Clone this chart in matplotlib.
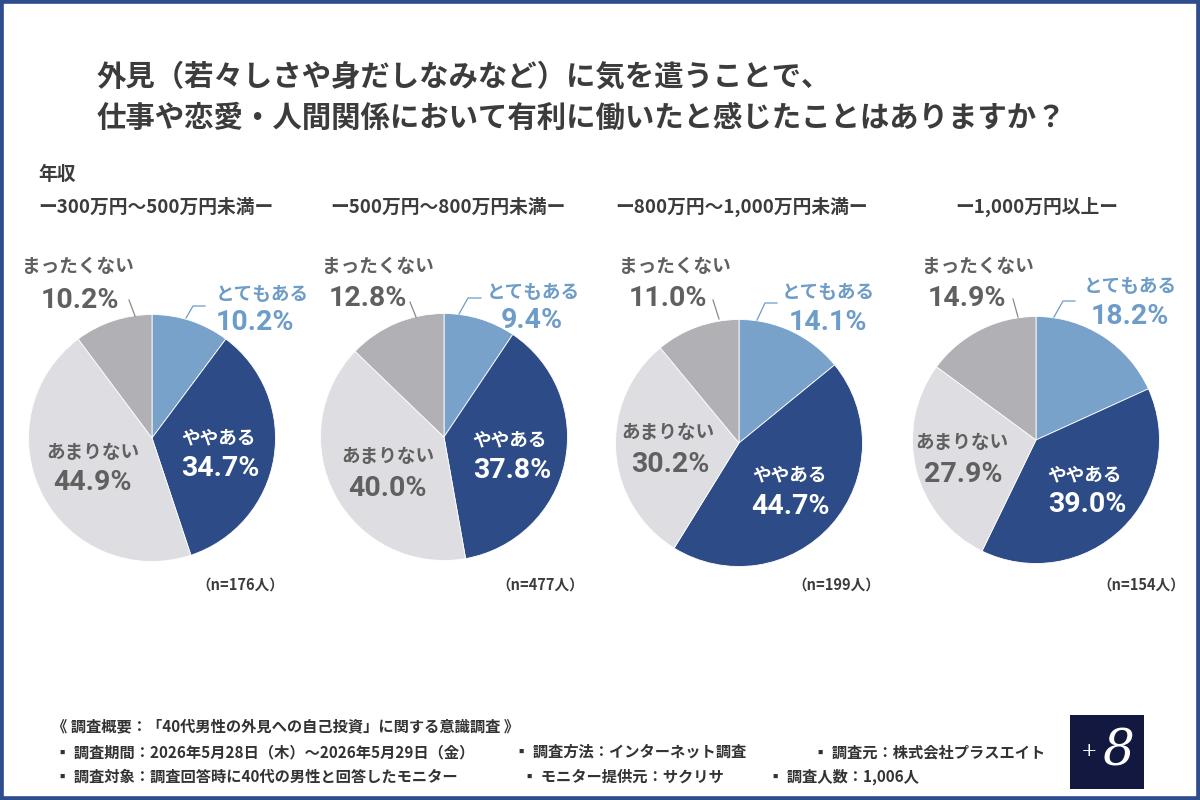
import matplotlib
matplotlib.use("Agg")
import matplotlib.pyplot as plt
from matplotlib.patches import Rectangle

plt.rcParams['font.family'] = ['Noto Sans CJK JP', 'DejaVu Sans']

# ---------------- data ----------------
title_lines = ["外見（若々しさや身だしなみなど）に気を遣うことで、",
               "仕事や恋愛・人間関係において有利に働いたと感じたことはありますか？"]
group_caption = "年収"
groups = ["ー300万円～500万円未満ー", "ー500万円～800万円未満ー",
          "ー800万円～1,000万円未満ー", "ー1,000万円以上ー"]
categories = ["とてもある", "ややある", "あまりない", "まったくない"]
very_much = [10.2, 9.4, 14.1, 18.2]
somewhat = [34.7, 37.8, 44.7, 39.0]
not_much = [44.9, 40.0, 30.2, 27.9]
not_at_all = [10.2, 12.8, 11.0, 14.9]
sample_n = [176, 477, 199, 154]

footer_title = "《 調査概要：「40代男性の外見への自己投資」に関する意識調査 》"
footer_items = [
    ["▪ 調査期間：2026年5月28日（木）～2026年5月29日（金）", "▪ 調査方法：インターネット調査", "▪ 調査元：株式会社プラスエイト"],
    ["▪ 調査対象：調査回答時に40代の男性と回答したモニター", "▪ モニター提供元：サクリサ", "▪ 調査人数：1,006人"],
]

# ---------------- style ----------------
colors = ["#78a2c9", "#2d4b87", "#dedde2", "#b1b0b5"]
c_lightblue_txt = "#6e9cc8"
c_gray_txt = "#606060"
c_dark = "#3c3c3c"
W, H = 1200, 800

fig = plt.figure(figsize=(12, 8), dpi=100)
fig.patch.set_facecolor("white")
ax = fig.add_axes([0, 0, 1, 1])

def Y(y):
    return H - y

pct_font = ['Roboto', 'DejaVu Sans']
PCT = 20.5
LBL = 13.4

# layout per pie: center, label positions (image pixel coords)
layout = [
    dict(c=(152, 438), hdr=(38, 'left'), n=(240, 585),
         top=(262, 294, 255, 322), lead_top=[(186, 318), (193, 306), (205, 306)],
         left=(78, 267, 80, 300), lead_left=[(129, 300), (135, 316)],
         mid=(219, 438, 220, 469), low=(93, 452, 92, 483)),
    dict(c=(444, 437), hdr=(448, 'center'), n=(540, 585),
         top=(533, 292, 532, 320), lead_top=[(459, 314), (468, 298), (481, 298)],
         left=(378, 267, 368, 298), lead_left=[(410, 302), (416, 317)],
         mid=(510, 440, 512, 471), low=(388, 457, 387, 488)),
    dict(c=(739, 443), hdr=(742, 'center'), n=(836, 585),
         top=(828, 293, 828, 322), lead_top=[(757, 320), (765, 303), (777, 303)],
         left=(675, 267, 668, 299), lead_left=[(713, 300), (719, 319)],
         mid=(790, 475, 790, 506), low=(668, 433, 670, 464)),
    dict(c=(1036, 440), hdr=(1037, 'center'), n=(1141, 585),
         top=(1130, 287, 1130, 316), lead_top=[(1054, 317), (1063, 301), (1075, 301)],
         left=(978, 266, 967, 299), lead_left=[(1013, 299), (1018, 317)],
         mid=(1085, 475, 1087, 505), low=(962, 443, 963, 475)),
]
R = 123.5

for i, L in enumerate(layout):
    vals = [very_much[i], somewhat[i], not_much[i], not_at_all[i]]
    cx, cy = L['c']
    ax.pie(vals, colors=colors, startangle=90, counterclock=False,
           center=(cx, Y(cy)), radius=R,
           wedgeprops=dict(linewidth=0.6, edgecolor="white"))
    # header
    hx, ha = L['hdr']
    ax.text(hx, Y(207), groups[i], ha=ha, va='center', fontsize=13.5,
            fontweight='bold', color=c_dark)
    # とてもある
    x1, y1, x2, y2 = L['top']
    ax.text(x1, Y(y1), categories[0], ha='center', va='center', fontsize=LBL,
            fontweight='bold', color=c_lightblue_txt)
    ax.text(x2, Y(y2), f"{vals[0]:.1f}%", ha='center', va='center', fontsize=PCT,
            fontweight='bold', color=c_lightblue_txt, family=pct_font)
    ax.plot([p[0] for p in L['lead_top']], [Y(p[1]) for p in L['lead_top']],
            color=c_lightblue_txt, lw=0.9)
    # まったくない
    x1, y1, x2, y2 = L['left']
    ax.text(x1, Y(y1), categories[3], ha='center', va='center', fontsize=LBL,
            fontweight='bold', color=c_gray_txt)
    ax.text(x2, Y(y2), f"{vals[3]:.1f}%", ha='center', va='center', fontsize=PCT,
            fontweight='bold', color=c_gray_txt, family=pct_font)
    ax.plot([p[0] for p in L['lead_left']], [Y(p[1]) for p in L['lead_left']],
            color="#8a8a8a", lw=0.9)
    # ややある
    x1, y1, x2, y2 = L['mid']
    ax.text(x1, Y(y1), categories[1], ha='center', va='center', fontsize=LBL,
            fontweight='bold', color='white')
    ax.text(x2, Y(y2), f"{vals[1]:.1f}%", ha='center', va='center', fontsize=PCT,
            fontweight='bold', color='white', family=pct_font)
    # あまりない
    x1, y1, x2, y2 = L['low']
    ax.text(x1, Y(y1), categories[2], ha='center', va='center', fontsize=LBL,
            fontweight='bold', color=c_gray_txt)
    ax.text(x2, Y(y2), f"{vals[2]:.1f}%", ha='center', va='center', fontsize=PCT,
            fontweight='bold', color=c_gray_txt, family=pct_font)
    # n
    nx, ny = L['n']
    ax.text(nx, Y(ny), f"（n={sample_n[i]}人）", ha='center', va='center',
            fontsize=10.5, fontweight='bold', color=c_dark)

ax.set_xlim(0, W)
ax.set_ylim(0, H)
ax.set_aspect('auto')
ax.axis('off')

# title
ax.text(97, Y(77), title_lines[0], ha='left', va='center', fontsize=21.2,
        fontweight='bold', color=c_dark)
ax.text(97, Y(118), title_lines[1], ha='left', va='center', fontsize=21.2,
        fontweight='bold', color=c_dark)
ax.text(38, Y(174), group_caption, ha='left', va='center', fontsize=13.5,
        fontweight='bold', color=c_dark)

# footer
ax.text(52, Y(726), footer_title, ha='left', va='center', fontsize=11,
        fontweight='bold', color="#333333")
foot_x = [[55, 514, 813], [55, 522, 768]]
foot_y = [752, 777]
for r, row in enumerate(footer_items):
    for k, s in enumerate(row):
        ax.text(foot_x[r][k], Y(foot_y[r]), s, ha='left', va='center',
                fontsize=11, fontweight='bold', color="#333333")

# logo
ax.add_patch(Rectangle((1070, Y(789)), 74, 74, facecolor="#121840", edgecolor='none'))
ax.text(1089, Y(751), "+", ha='center', va='center', fontsize=14, color='white',
        family='DejaVu Serif')
ax.text(1118, Y(752), "8", ha='center', va='center', fontsize=36, color='white',
        family='DejaVu Serif', style='italic')

# frame border
fig.patches.append(Rectangle((0, 0), 1, 1, transform=fig.transFigure, fill=False,
                             edgecolor="#2e4d8f", linewidth=5.5))

fig.savefig("out.png", dpi=100, facecolor="white")
